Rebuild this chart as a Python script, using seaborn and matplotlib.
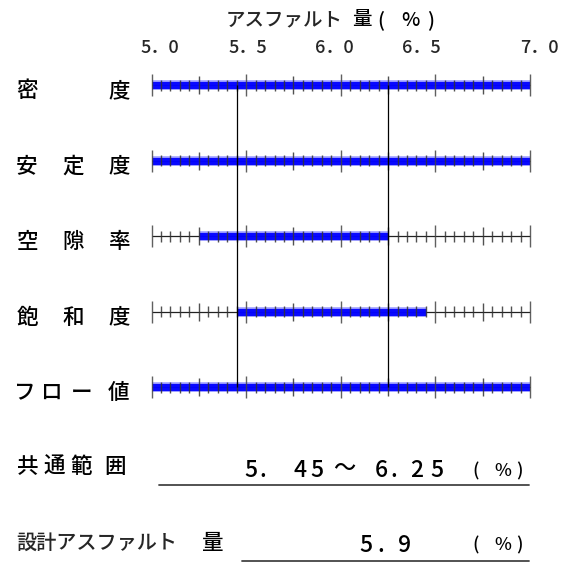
import numpy as np
import pandas as pd
import matplotlib
matplotlib.use("Agg")
import matplotlib.pyplot as plt
import seaborn as sns

# ---------------- data ----------------
properties = ["密度", "安定度", "空隙率", "飽和度", "フロー値"]
range_low = [5.0, 5.0, 5.25, 5.45, 5.0]
range_high = [7.0, 7.0, 6.25, 6.45, 7.0]
common_low = 5.45
common_high = 6.25
design_value = 5.9
axis_min, axis_max = 5.0, 7.0
tick_labels = ["5．0", "5．5", "6．0", "6．5", "7．0"]
axis_title_main = "アスファルト"
axis_title_unit = "量(%)"
common_label = "共通範囲"
design_label_main = "設計アスファルト"
design_label_tail = "量"
unit_text = "(%)"

# ---------------- style ----------------
sns.set_theme(style="white")
FONT = ["Noto Sans CJK JP", "DejaVu Sans"]
plt.rcParams["font.family"] = FONT
WEIGHT = "medium"

W, H = 566, 574
fig = plt.figure(figsize=(W / 100, H / 100), dpi=100)
fig.patch.set_facecolor("white")

ov = fig.add_axes([0, 0, 1, 1])
ov.set_xlim(0, W)
ov.set_ylim(H, 0)
ov.axis("off")
ov.patch.set_visible(False)

x0_px, x1_px = 151.5, 530.0
row0_px, row_step = 85.0, 75.5
n = len(properties)
top_px = row0_px - row_step / 2
bot_px = row0_px + row_step * (n - 1) + row_step / 2
ax = fig.add_axes([x0_px / W, 1 - bot_px / H, (x1_px - x0_px) / W, (bot_px - top_px) / H])

px = 1.0 / row_step
tick_pos = np.round(np.arange(axis_min, axis_max + 1e-9, 0.05), 2)

rows = []
for i, (lo, hi) in enumerate(zip(range_low, range_high)):
    rows.append({"x": lo, "y": i, "row": i})
    rows.append({"x": hi, "y": i, "row": i})
df = pd.DataFrame(rows)
sns.lineplot(data=df, x="x", y="y", units="row", estimator=None, sort=False,
             color="#5050ff", linewidth=7.0, alpha=0.5, ax=ax,
             solid_capstyle="butt", zorder=1.9, legend=False)
sns.lineplot(data=df, x="x", y="y", units="row", estimator=None, sort=False,
             color="#0000ff", linewidth=5.2, alpha=0.95, ax=ax,
             solid_capstyle="butt", zorder=2, legend=False)
ax.set_xlim(axis_min, axis_max)
ax.set_ylim(n - 0.5, -0.5)
ax.axis("off")
ax.patch.set_visible(False)

for i in range(n):
    ax.hlines(i, axis_min, axis_max, color="#222222", lw=0.9, zorder=1, clip_on=False)
    for k, t in enumerate(tick_pos):
        if k % 10 == 0:
            h, c = 11 * px, "#444444"
        elif k % 5 == 0:
            h, c = 9 * px, "#333333"
        else:
            h, c = 5.5 * px, "#333333"
        ax.vlines(t, i - h, i + h, color=c, lw=1.0, alpha=0.85,
                  zorder=3, clip_on=False)

for v in (common_low, common_high):
    ax.vlines(v, 0, n - 1, color="black", lw=0.9, zorder=4, clip_on=False)

# ---------------- text ----------------
def put(chars, xs, y, size, va="center"):
    for c, x in zip(chars, xs):
        ov.text(x, y, c, ha="center", va=va, fontsize=size, color="black",
                family=FONT, fontweight=WEIGHT)

# title
ov.text(226, 20, axis_title_main, ha="left", va="center", fontsize=14,
        family=FONT, fontweight=WEIGHT)
put(axis_title_unit, [362, 381, 410, 431], 20, 14)

# tick labels
for lab, x in zip(tick_labels, [160, 247.5, 334, 421.5, 539]):
    ov.text(x, 53, lab, ha="center", va="baseline", fontsize=13,
            family=FONT, fontweight=WEIGHT)

# row labels
row_xs = {2: [27, 119], 3: [27, 73, 119], 4: [25, 51, 82, 118]}
for i, lab in enumerate(properties):
    put(lab, row_xs[len(lab)], row0_px + row_step * i + 6, 15.5)

# common range line
put(common_label, [27.5, 54, 81.5, 115], 467, 15.5)
lo_s, hi_s = f"{common_low:.2f}", f"{common_high:.2f}"
put(lo_s, [251, 263, 300, 317], 477, 16.5, va="baseline")
put("～", [344], 468, 16)
put(hi_s, [381, 394, 417, 437], 477, 16.5, va="baseline")
put(unit_text, [476, 503, 519], 476, 13, va="baseline")
ov.plot([159, 529], [485, 485], color="#444444", lw=1.3)

# design value line
ov.text(16, 543, design_label_main, ha="left", va="center", fontsize=14.5,
        family=FONT, fontweight=WEIGHT)
put(design_label_tail, [213], 543, 15.5)
put(f"{design_value:.1f}", [366, 381, 405], 552, 16.5, va="baseline")
put(unit_text, [476, 503, 519], 550, 13, va="baseline")
ov.plot([242, 529], [561, 561], color="#444444", lw=1.3)

fig.savefig("out.png", dpi=100, facecolor="white")
